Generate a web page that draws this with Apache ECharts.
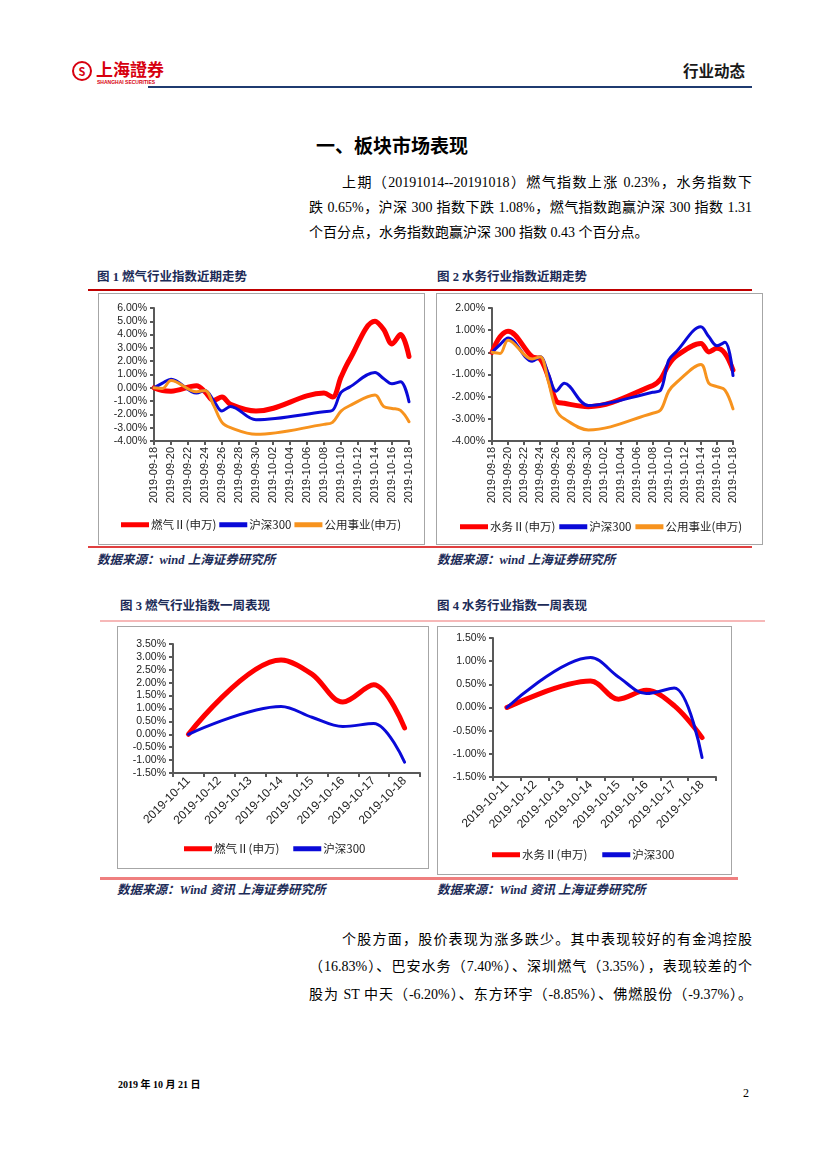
<!DOCTYPE html>
<html><head><meta charset="utf-8">
<script src="https://cdn.jsdelivr.net/npm/echarts@6/dist/echarts.min.js"></script>
<style>
html,body{margin:0;padding:0;background:#fff;}
#page{position:relative;width:827px;height:1169px;overflow:hidden;background:#fff;font-family:"Liberation Serif","Noto Sans CJK SC",serif;color:#000;}
.abs{position:absolute;white-space:nowrap;}
.para{font-size:14px;line-height:20px;height:20px;}
.just{text-align:justify;text-align-last:justify;}
.cap{font-size:12.5px;font-weight:bold;color:#1c2b57;line-height:16px;}
.src{font-size:12.5px;font-weight:bold;font-style:italic;color:#1c2b57;line-height:16px;}
.box{position:absolute;border:1px solid #a6a6a6;background:#fff;box-sizing:border-box;}
.hr{position:absolute;}
</style></head>
<body><div id="page">
  <!-- header -->
  <div class="abs" style="left:72px;top:61px;width:20px;height:20px;border:2px solid #d7000f;border-radius:50%;box-sizing:border-box;color:#d7000f;font:bold 11px 'Noto Sans CJK SC';text-align:center;line-height:16px;">S</div>
  <div class="abs" style="left:96px;top:59px;font:bold 17px 'Noto Sans CJK SC';color:#d7000f;line-height:20px;letter-spacing:0px;">上海證券</div>
  <div class="abs" style="left:97px;top:79px;font:bold 5px 'Liberation Sans';color:#d7000f;line-height:6px;">SHANGHAI SECURITIES</div>
  <div class="abs" style="left:683px;top:60px;font:bold 15.5px 'Noto Sans CJK SC';color:#1a1a1a;line-height:20px;">行业动态</div>
  <div class="hr" style="left:148px;top:86px;width:604px;height:2px;background:#1f3b70;"></div>

  <div class="abs" style="left:316px;top:134px;font:bold 19px 'Noto Sans CJK SC';line-height:22px;">一、板块市场表现</div>

  <div class="abs para just" style="left:342px;top:173px;width:410px;">上期（20191014--20191018）燃气指数上涨 0.23%，水务指数下</div>
  <div class="abs para just" style="left:309px;top:198px;width:443px;">跌 0.65%，沪深 300 指数下跌 1.08%，燃气指数跑赢沪深 300 指数 1.31</div>
  <div class="abs para" style="left:309px;top:223px;">个百分点，水务指数跑赢沪深 300 指数 0.43 个百分点。</div>

  <div class="abs cap" style="left:97px;top:269px;">图 1 燃气行业指数近期走势</div>
  <div class="abs cap" style="left:437px;top:269px;">图 2 水务行业指数近期走势</div>
  <div class="hr" style="left:88px;top:289px;width:664px;height:1.5px;background:#c00000;"></div>

  <div id="c1" class="box" style="left:98px;top:293px;width:327px;height:252px;"></div>
  <div id="c2" class="box" style="left:436px;top:293px;width:327px;height:252px;"></div>
  <div class="hr" style="left:88px;top:546px;width:664px;height:2px;background:#e04040;"></div>

  <div class="abs src" style="left:97px;top:552px;">数据来源：wind 上海证券研究所</div>
  <div class="abs src" style="left:437px;top:552px;">数据来源：wind 上海证券研究所</div>

  <div class="abs cap" style="left:120px;top:598px;">图 3 燃气行业指数一周表现</div>
  <div class="abs cap" style="left:437px;top:598px;">图 4 水务行业指数一周表现</div>
  <div class="hr" style="left:100px;top:620px;width:665px;height:2px;background:#f6b8b8;"></div>

  <div id="c3" class="box" style="left:117px;top:626px;width:312px;height:243px;"></div>
  <div id="c4" class="box" style="left:437px;top:626px;width:295px;height:249px;"></div>
  <div class="hr" style="left:100px;top:877px;width:638px;height:3px;background:#ef7f7f;"></div>

  <div class="abs src" style="left:117px;top:882px;">数据来源：Wind 资讯 上海证券研究所</div>
  <div class="abs src" style="left:437px;top:882px;">数据来源：Wind 资讯 上海证券研究所</div>

  <div class="abs para just" style="left:342px;top:930px;width:410px;">个股方面，股价表现为涨多跌少。其中表现较好的有金鸿控股</div>
  <div class="abs para just" style="left:309px;top:957px;width:443px;">（16.83%）、巴安水务（7.40%）、深圳燃气（3.35%），表现较差的个</div>
  <div class="abs para just" style="left:309px;top:985px;width:443px;">股为 ST 中天（-6.20%）、东方环宇（-8.85%）、佛燃股份（-9.37%）。</div>

  <div class="abs" style="left:118px;top:1078px;font-size:10px;font-weight:bold;line-height:14px;">2019 年 10 月 21 日</div>
  <div class="abs" style="left:743px;top:1085px;font-size:12px;line-height:16px;">2</div>
</div>
<script>
const DAYS = ['2019-09-18','2019-09-19','2019-09-20','2019-09-21','2019-09-22','2019-09-23','2019-09-24','2019-09-25','2019-09-26','2019-09-27','2019-09-28','2019-09-29','2019-09-30','2019-10-01','2019-10-02','2019-10-03','2019-10-04','2019-10-05','2019-10-06','2019-10-07','2019-10-08','2019-10-09','2019-10-10','2019-10-11','2019-10-12','2019-10-13','2019-10-14','2019-10-15','2019-10-16','2019-10-17','2019-10-18'];
const GAS_MONTH   = [0,-0.2,-0.25,null,null,0.15,-0.3,-0.95,-0.7,-1.25,null,null,-1.75,null,null,null,null,null,null,null,-0.4,-0.7,0.8,2.1,null,null,5.0,4.4,3.3,4.0,2.35];
const WATER_MONTH = [0,0.7,0.95,null,null,-0.2,-0.3,-1.1,-2.2,-2.3,null,null,-2.45,null,null,null,null,null,null,null,-1.5,-1.2,-0.55,-0.15,null,null,0.4,0.02,0.18,-0.05,-0.8];
const HS300_MONTH = [0,0.35,0.65,null,null,-0.4,-0.2,-0.95,-1.75,-1.4,null,null,-2.4,null,null,null,null,null,null,null,-1.8,-1.7,-0.35,0.05,null,null,1.15,0.7,0.3,0.45,-1.05];
const UTIL_MONTH  = [0,-0.05,0.55,null,null,-0.3,-0.2,-1.3,-2.6,-3.0,null,null,-3.5,null,null,null,null,null,null,null,-2.75,-2.6,-1.75,-1.35,null,null,-0.55,-1.4,-1.55,-1.7,-2.55];

const WEEK_DAYS  = ['2019-10-11','2019-10-12','2019-10-13','2019-10-14','2019-10-15','2019-10-16','2019-10-17','2019-10-18'];
const GAS_WEEK   = [0,null,null,2.88,2.33,1.25,1.92,0.25];
const WATER_WEEK = [0,null,null,0.57,0.18,0.37,0.04,-0.65];
const HS300_WEEK = [0,null,null,1.08,0.66,0.3,0.42,-1.08];

const NAME_GAS = '燃气Ⅱ(申万)', NAME_WATER = '水务Ⅱ(申万)', NAME_HS = '沪深300', NAME_UTIL = '公用事业(申万)';
const RED = '#ff0000', BLUE = '#0a0ad8', ORANGE = '#f7931e';
const AXC = '#595959';

function build(id, cfg) {
  const chart = echarts.init(document.getElementById(id), null, {renderer: 'canvas'});
  const series = cfg.series.map(s => ({
    name: s.name, type: 'line', data: s.data, smooth: 0.35, connectNulls: true,
    symbol: 'none', showSymbol: false, color: s.color,
    lineStyle: {color: s.color, width: s.width, cap: 'round', join: 'round'},
    emphasis: {disabled: true}
  }));
  chart.setOption({
    animation: false,
    grid: cfg.grid,
    legend: Object.assign({
      icon: 'rect', itemWidth: 28, itemHeight: 5, padding: 0,
      textStyle: {fontFamily: 'Noto Sans CJK SC', fontSize: 11.5, color: '#222', padding: [0, 0, 0, -3]},
      data: cfg.series.map(s => s.name)
    }, cfg.legend),
    xAxis: {
      type: 'category', data: cfg.cats, boundaryGap: cfg.boundaryGap,
      axisLine: {onZero: false, lineStyle: {color: AXC, width: 2}},
      axisTick: Object.assign({show: true, length: 4, lineStyle: {color: AXC, width: 2}}, cfg.tick || {}),
      axisLabel: Object.assign({fontFamily: 'Liberation Sans', fontSize: 11, color: '#222', margin: 6}, cfg.xLabel)
    },
    yAxis: {
      type: 'value', min: cfg.ymin, max: cfg.ymax, interval: cfg.yint,
      splitLine: {show: false},
      axisLine: {show: true, lineStyle: {color: AXC, width: 2}},
      axisTick: {show: true, length: 4, lineStyle: {color: AXC, width: 2}},
      axisLabel: {fontFamily: 'Liberation Sans', fontSize: 10.5, color: '#222', margin: 7,
        formatter: v => v.toFixed(2) + '%'}
    },
    series: series
  });
}

build('c1', {
  grid: {left: 55, right: 15, top: 14, bottom: 103},
  cats: DAYS, boundaryGap: false, ymin: -4, ymax: 6, yint: 1,
  tick: {interval: 1}, xLabel: {interval: 1, rotate: 90},
  legend: {left: 22, top: 225, itemGap: 3},
  series: [
    {name: NAME_GAS, data: GAS_MONTH, color: RED, width: 5},
    {name: NAME_HS, data: HS300_MONTH, color: BLUE, width: 3},
    {name: NAME_UTIL, data: UTIL_MONTH, color: ORANGE, width: 3}
  ]
});
build('c2', {
  grid: {left: 55, right: 29, top: 14, bottom: 103},
  cats: DAYS, boundaryGap: false, ymin: -4, ymax: 2, yint: 1,
  tick: {interval: 1}, xLabel: {interval: 1, rotate: 90},
  legend: {left: 23, top: 227, itemGap: 4},
  series: [
    {name: NAME_WATER, data: WATER_MONTH, color: RED, width: 5},
    {name: NAME_HS, data: HS300_MONTH, color: BLUE, width: 3},
    {name: NAME_UTIL, data: UTIL_MONTH, color: ORANGE, width: 3}
  ]
});
build('c3', {
  grid: {left: 55, right: 8, top: 17, bottom: 95},
  cats: WEEK_DAYS, boundaryGap: true, ymin: -1.5, ymax: 3.5, yint: 0.5,
  xLabel: {interval: 0, rotate: 45, fontSize: 12},
  legend: {left: 66, top: 216, itemGap: 14},
  series: [
    {name: NAME_GAS, data: GAS_WEEK, color: RED, width: 5},
    {name: NAME_HS, data: HS300_WEEK, color: BLUE, width: 3}
  ]
});
build('c4', {
  grid: {left: 55, right: 15, top: 11, bottom: 97},
  cats: WEEK_DAYS, boundaryGap: true, ymin: -1.5, ymax: 1.5, yint: 0.5,
  xLabel: {interval: 0, rotate: 45, fontSize: 12},
  legend: {left: 54, top: 222, itemGap: 15},
  series: [
    {name: NAME_WATER, data: WATER_WEEK, color: RED, width: 5},
    {name: NAME_HS, data: HS300_WEEK, color: BLUE, width: 3}
  ]
});
</script>
</body></html>
